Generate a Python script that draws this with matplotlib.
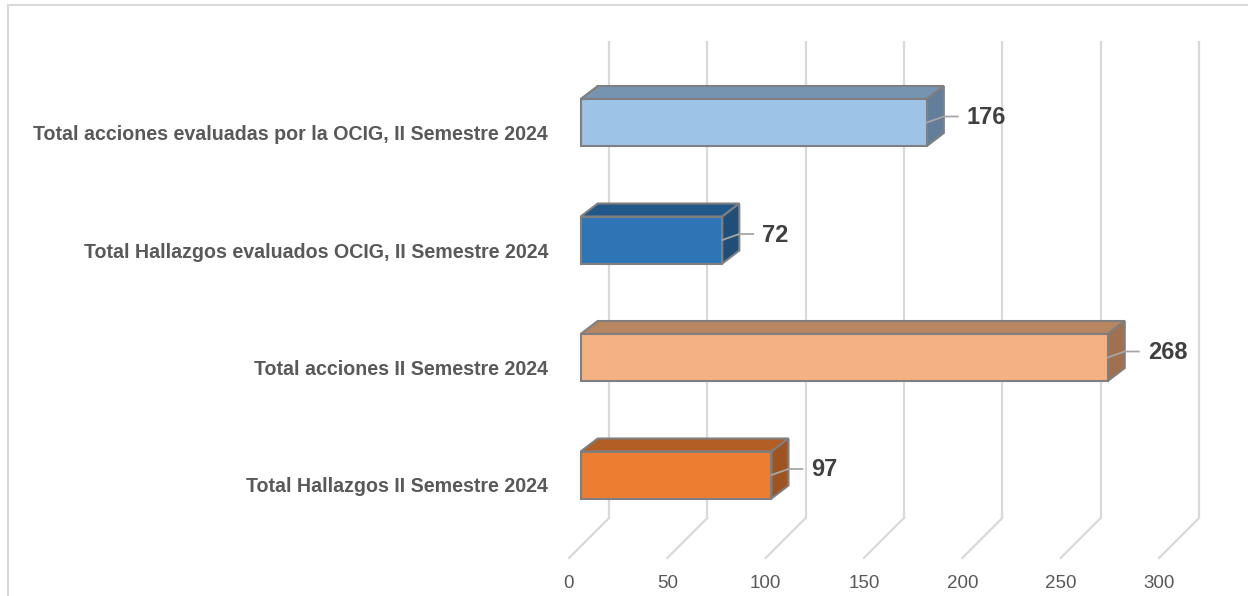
import matplotlib
matplotlib.use("Agg")
import matplotlib.pyplot as plt
from matplotlib.patches import Polygon, Rectangle

# Data (bottom to top)
categories = [
    "Total Hallazgos II Semestre 2024",
    "Total acciones II Semestre 2024",
    "Total Hallazgos evaluados OCIG, II Semestre 2024",
    "Total acciones evaluadas por la OCIG, II Semestre 2024",
]
values = [97, 268, 72, 176]
front_colors = ["#ED7D31", "#F4B183", "#2E75B6", "#9DC3E6"]
top_colors = ["#B25E25", "#B7855F", "#22578A", "#7693AF"]
side_colors = ["#9E5321", "#A1714F", "#1F4E79", "#637E9A"]
xticks = [0, 50, 100, 150, 200, 250, 300]

plt.rcParams["font.family"] = ["Liberation Sans Narrow", "Liberation Sans", "DejaVu Sans"]

W, H = 1248, 596
fig = plt.figure(figsize=(W / 100, H / 100), dpi=100)

# axes placed so that value 0..300 spans the front floor edge
x0_px, x1_px = 569, 1159
ytop_px, ybot_px = 41, 558
ax = fig.add_axes([x0_px / W, 1 - ybot_px / H, (x1_px - x0_px) / W, (ybot_px - ytop_px) / H])

row_px = 117.5          # pixel spacing between categories
yc0_px = 475            # pixel y of lowest bar centre
ux = 300 / (x1_px - x0_px)   # value units per pixel
uy = 1 / row_px              # category units per pixel
ax.set_xlim(0, 300)
ax.set_ylim((yc0_px - ybot_px) * uy, (yc0_px - ytop_px) * uy)

# floor / wall geometry
floor_dx, floor_dy = 40 * ux, 40 * uy
floor_y = ax.get_ylim()[0]
grid_c = "#D9D9D9"
for v in xticks:
    ax.plot([v + floor_dx, v + floor_dx], [floor_y + floor_dy, ax.get_ylim()[1]],
            color=grid_c, lw=1.6, zorder=1, clip_on=False, solid_capstyle="butt")
    ax.plot([v, v + floor_dx], [floor_y, floor_y + floor_dy],
            color=grid_c, lw=1.6, zorder=1, clip_on=False)

# 3D bars
bar_off = 11.7 * ux
bh = 47 * uy
ddx, ddy = 17 * ux, 13 * uy
edge = "#7F7F7F"
for i, (v, fc, tc, sc) in enumerate(zip(values, front_colors, top_colors, side_colors)):
    x0, x1 = bar_off, bar_off + v
    yb, yt = i - bh / 2, i + bh / 2
    top = Polygon([(x0, yt), (x1, yt), (x1 + ddx, yt + ddy), (x0 + ddx, yt + ddy)],
                  closed=True, fc=tc, ec=edge, lw=1.5, zorder=3, clip_on=False)
    side = Polygon([(x1, yb), (x1 + ddx, yb + ddy), (x1 + ddx, yt + ddy), (x1, yt)],
                   closed=True, fc=sc, ec=edge, lw=1.5, zorder=3, clip_on=False)
    ax.add_patch(top)
    ax.add_patch(side)
    ax.barh(i, v, left=x0, height=bh, color=fc, edgecolor=edge, lw=1.5, zorder=4, clip_on=False)
    # leader line + value label
    lx = [x1, x1 + ddx, x1 + ddx + 14 * ux]
    ly = [i, i + 6 * uy, i + 6 * uy]
    ax.plot(lx, ly, color="#A6A6A6", lw=1.3, zorder=5, clip_on=False)
    ax.text(x1 + ddx + 23 * ux, i + 5 * uy, str(v), ha="left", va="center",
            fontsize=17, fontweight="bold", color="#404040", zorder=6)

# axis cosmetics
for s in ax.spines.values():
    s.set_visible(False)
ax.set_xticks(xticks)
ax.set_xticklabels([str(t) for t in xticks])
ax.tick_params(axis="x", length=0, pad=12, labelsize=13.5, labelcolor="#595959")
ax.set_yticks([i - 10 * uy for i in range(len(categories))])
ax.set_yticklabels(categories)
ax.tick_params(axis="y", length=0, pad=15, labelsize=14.1, labelcolor="#595959")
for lab in ax.get_yticklabels():
    lab.set_fontweight("bold")
ax.patch.set_visible(False)

# chart border (only left and top visible in the crop)
fig.patches.append(Rectangle((8 / W, -0.1), 1.2, 1 - 5 / H + 0.1, transform=fig.transFigure,
                             fill=False, ec="#D9D9D9", lw=1.5, zorder=0))

fig.savefig("out.png", dpi=100)
